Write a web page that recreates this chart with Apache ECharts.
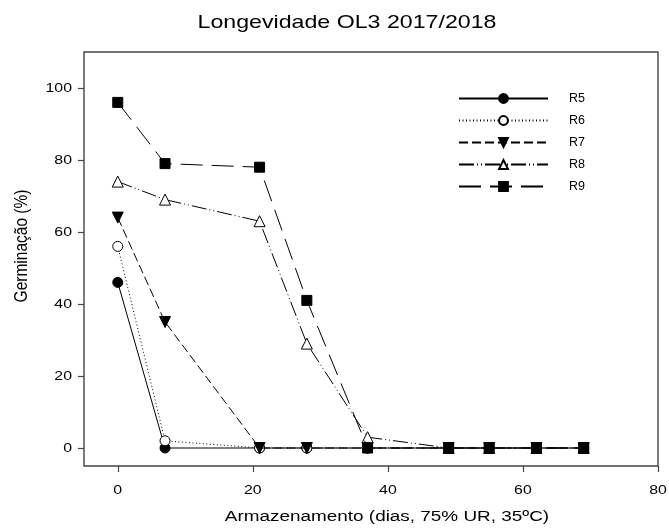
<!DOCTYPE html>
<html>
<head>
<meta charset="utf-8">
<script src="https://cdn.jsdelivr.net/npm/echarts@6/dist/echarts.min.js"></script>
<style>
  html, body { margin: 0; padding: 0; background: #fff; }
  #chart { width: 669px; height: 532px; }
</style>
</head>
<body>
<div id="chart"></div>
<script>
// Storage days
const days = [0, 7, 21, 28, 37, 49, 55, 62, 69];
// Germination (%) per lot
const r5 = [46, 0, 0, 0, 0, 0, 0, 0, 0];
const r6 = [56, 2, 0, 0, 0, 0, 0, 0, 0];
const r7 = [64, 35, 0, 0, 0, 0, 0, 0, 0];
const r8 = [74, 69, 63, 29, 3, 0, 0, 0, 0];
const r9 = [96, 79, 78, 41, 0, 0, 0, 0, 0];
const seriesNames = ['R5', 'R6', 'R7', 'R8', 'R9'];
const xTicks = [0, 20, 40, 60, 80];
const yTicks = [0, 20, 40, 60, 80, 100];
const titleText = 'Longevidade OL3 2017/2018';
const xName = 'Armazenamento (dias, 75% UR, 35\u00baC)';
const yName = 'Germina\u00e7\u00e3o (%)';

const FONT = 'Liberation Sans, Arial, sans-serif';
const SX = 1.22; // horizontal stretch of the text glyphs
const pair = (ys) => days.map((d, i) => [d, ys[i]]);

const styles = [
  { symbol: 'circle', size: 10, fill: '#000', dash: 'solid', rot: 0 },
  { symbol: 'circle', size: 10, fill: '#fff', dash: [1, 2.5], rot: 0 },
  { symbol: 'triangle', size: 11, fill: '#000', dash: [9, 4], rot: 180 },
  { symbol: 'triangle', size: 11, fill: '#fff', dash: [15, 3, 1, 3, 1, 3], rot: 0 },
  { symbol: 'rect', size: 10, fill: '#000', dash: [22, 9], rot: 0 }
];
const values = [r5, r6, r7, r8, r9];

const chart = echarts.init(document.getElementById('chart'), null, { renderer: 'canvas' });
chart.setOption({
  animation: false,
  backgroundColor: '#fff',
  legend: {
    left: 453,
    top: 87,
    orient: 'vertical',
    itemWidth: 89,
    itemHeight: 11,
    itemGap: 9,
    data: seriesNames,
    textStyle: { fontFamily: FONT, fontSize: 12.5, color: '#000', padding: [0, 0, 0, 16] }
  },
  grid: { left: 84, right: 11, top: 52, bottom: 66, containLabel: false,
          show: true, borderColor: '#444', borderWidth: 1.4 },
  xAxis: {
    type: 'value',
    min: -5, max: 80,
    axisLine: { show: false, onZero: false },
    axisTick: { show: true, length: 6, lineStyle: { color: '#444', width: 1.2 },
                customValues: xTicks },
    axisLabel: { show: false },
    splitLine: { show: false }
  },
  yAxis: {
    type: 'value',
    min: -5, max: 110,
    axisLine: { show: false, onZero: false },
    axisTick: { show: true, length: 6, lineStyle: { color: '#444', width: 1.2 },
                customValues: yTicks },
    axisLabel: { show: false },
    splitLine: { show: false }
  },
  series: seriesNames.map((name, k) => ({
    name: name,
    type: 'line',
    data: pair(values[k]),
    symbol: styles[k].symbol,
    symbolSize: styles[k].size,
    symbolRotate: styles[k].rot,
    showAllSymbol: true,
    z: 2 + k,
    lineStyle: { color: '#000', width: 1, type: styles[k].dash },
    itemStyle: { color: styles[k].fill, borderColor: '#000', borderWidth: 1 },
    emphasis: { disabled: true }
  }))
});

// Text layer: title, axis names and tick labels, placed on the axis scales
function txt(text, x, y, size, align, valign, extra) {
  return Object.assign({
    type: 'text', x: x, y: y, silent: true,
    style: {
      text: text, font: size + 'px ' + FONT, fill: '#000',
      textAlign: align, align: align,
      textVerticalAlign: valign, verticalAlign: valign
    }
  }, extra || {});
}
const g = [];
g.push(txt(titleText, 347, 23, 19, 'center', 'middle', { scaleX: SX }));
g.push(txt(xName, 387, 517, 15.5, 'center', 'middle', { scaleX: SX }));
g.push(txt(yName, 22, 246, 15.5, 'center', 'middle', { rotation: Math.PI / 2, scaleY: SX }));
xTicks.forEach(v => {
  const px = chart.convertToPixel({ xAxisIndex: 0 }, v);
  g.push(txt(String(v), px, 490, 13, 'center', 'middle', { scaleX: SX }));
});
yTicks.forEach(v => {
  const py = chart.convertToPixel({ yAxisIndex: 0 }, v);
  g.push(txt(String(v), 72, py, 13, 'right', 'middle', { scaleX: SX }));
});
chart.setOption({ graphic: g });
</script>
</body>
</html>
